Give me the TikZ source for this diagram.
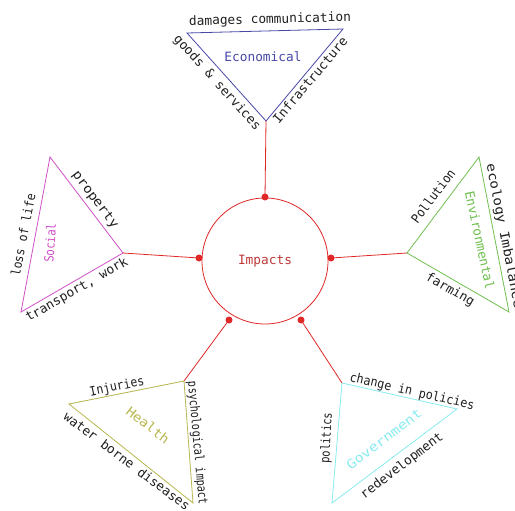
\documentclass[tikz,border=0pt]{standalone}
\usepackage{fontspec}
\newfontfamily\cadfont{DejaVu Sans Mono}
\definecolor{impred}{HTML}{E02828}
\definecolor{imptext}{HTML}{C03838}
\definecolor{econblue}{HTML}{4848A8}
\definecolor{socmag}{HTML}{D050C8}
\definecolor{envgreen}{HTML}{70C050}
\definecolor{healthol}{HTML}{B8B850}
\definecolor{govcyan}{HTML}{88ECF0}
\definecolor{labelink}{HTML}{202020}
\tikzset{
  lbl/.style={font=\cadfont\fontsize{12.8}{15}\selectfont, text=labelink, inner sep=0pt},
  tri/.style={line width=0.8pt, line join=miter},
  link/.style={impred, line width=0.8pt},
  hub/.style={circle, fill=impred, inner sep=0pt, minimum size=7pt},
}
\begin{document}
\begin{tikzpicture}[x=1pt,y=-1pt]
\useasboundingbox[fill=white] (0,0) rectangle (515,511);

% central circle
\node[draw=impred, line width=0.8pt, circle, minimum size=126pt,
      lbl, text=imptext] (imp) at (265,261) {Impacts};

% hub dots on the circle
\node[hub] (dtop) at (265,197) {};
\node[hub] (dleft) at (199,258) {};
\node[hub] (dright) at (331,258) {};
\node[hub] (dbl) at (229,320) {};
\node[hub] (dbr) at (301,320) {};

% triangle corners
\coordinate (e1) at (187,33);  \coordinate (e2) at (343,29);  \coordinate (e3) at (266,121);
\coordinate (s1) at (50,157);  \coordinate (s2) at (123,253); \coordinate (s3) at (21,312);
\coordinate (v1) at (407,253); \coordinate (v2) at (479,157); \coordinate (v3) at (509,312);
\coordinate (h1) at (69,404);  \coordinate (h2) at (184,381); \coordinate (h3) at (193,503);
\coordinate (g1) at (342,383); \coordinate (g2) at (457,409); \coordinate (g3) at (332,503);

% triangles
\draw[tri, econblue] (e1) -- (e2) -- (e3) -- cycle;
\draw[tri, socmag]   (s1) -- (s2) -- (s3) -- cycle;
\draw[tri, envgreen] (v1) -- (v2) -- (v3) -- cycle;
\draw[tri, healthol] (h1) -- (h2) -- (h3) -- cycle;
\draw[tri, govcyan]  (g1) -- (g2) -- (g3) -- cycle;

% connectors
\draw[link] (dtop.center) -- (e3);
\draw[link] (dleft.center) -- (s2);
\draw[link] (dright.center) -- (v1);
\draw[link] (dbl.center) -- (h2);
\draw[link] (dbr.center) -- (g1);

% Economical
\node[lbl] (econ1) at (270,20) [rotate=1.5] {damages communication};
\node[lbl, text=econblue] (econ) at (263,57) {Economical};
\node[lbl] (econ2) at (217,83) [rotate=-48] {goods \& services};
\node[lbl] (econ3) at (310,80) [rotate=50] {Infrastructure};

% Social
\node[lbl] (soc1) at (23,235) [rotate=79, xscale=0.9] {loss of life};
\node[lbl] (soc2) at (95,200) [rotate=-53, xscale=1.1] {property};
\node[lbl] (soc3) at (77,290) [rotate=30] {transport, work};
\node[lbl, text=socmag] (soc) at (50,243) [rotate=86, xscale=0.85] {Social};

% Environmental
\node[lbl] (env1) at (433,196) [rotate=53, xscale=0.92] {Pollution};
\node[lbl] (env2) at (504,236) [rotate=-79, xscale=1.12] {ecology Imbalance};
\node[lbl, text=envgreen] (env) at (480,240) [rotate=-78] {Environmental};
\node[lbl] (env3) at (450,290) [rotate=-30] {farming};

% Health
\node[lbl] (hea1) at (117,387) [rotate=12, xscale=0.9] {Injuries};
\node[lbl] (hea2) at (127,461) [rotate=-37] {water borne diseases};
\node[lbl] (hea3) at (197,443) [rotate=-85, xscale=0.8] {psychological impact};
\node[lbl, text=healthol] (hea) at (148,425) [rotate=-38, xscale=1.1] {Health};

% Government
\node[lbl] (gov1) at (412,392) [rotate=-13, xscale=0.92] {change in policies};
\node[lbl] (gov2) at (327,438) [rotate=87, xscale=0.82] {politics};
\node[lbl] (gov3) at (402,466) [rotate=37.5] {redevelopment};
\node[lbl, text=govcyan] (gov) at (384,439) [rotate=37.5, xscale=1.18] {Government};
\end{tikzpicture}
\end{document}
